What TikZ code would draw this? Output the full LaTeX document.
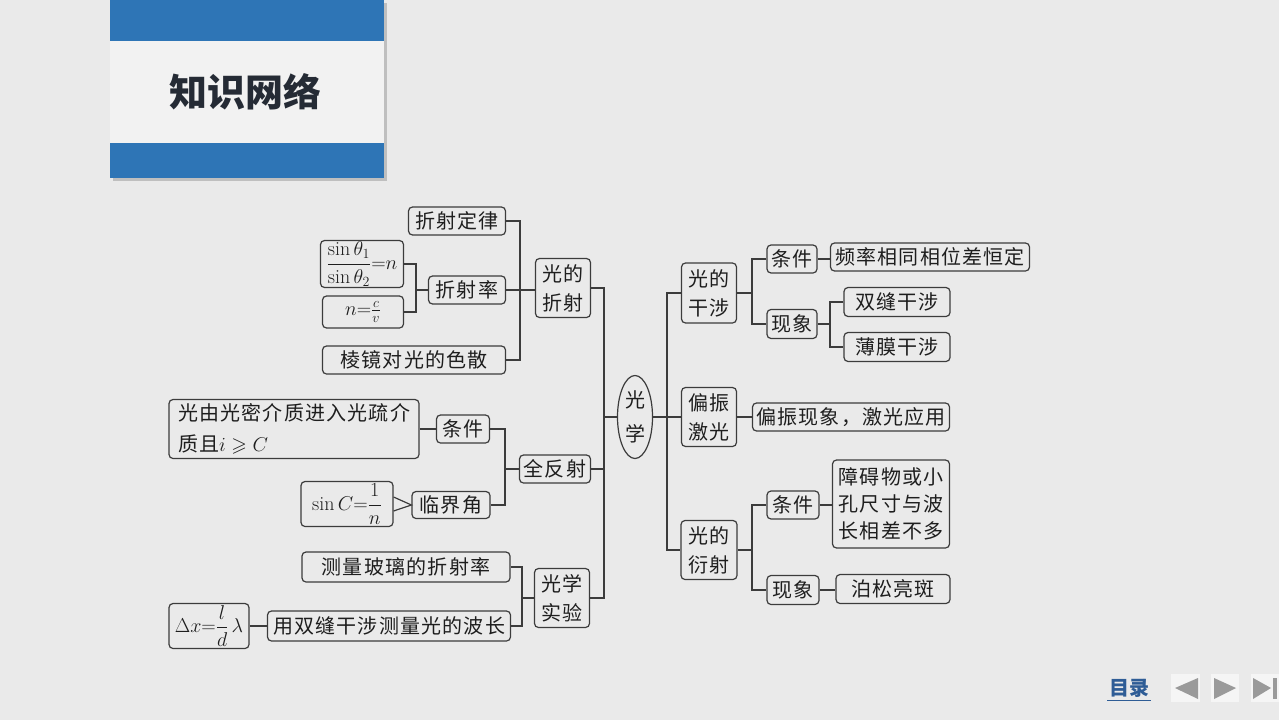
\RequirePackage{fix-cm}
\documentclass[tikz,border=0pt]{standalone}
\usepackage{amsmath,amssymb}
\usepackage{fontspec}
\newfontfamily\cjk{Noto Sans CJK SC}[LetterSpace=6]
\newfontfamily\cjktitle{Noto Sans CJK SC}
\usetikzlibrary{shapes.geometric,calc}

\definecolor{bgcol}{HTML}{EAEAEA}
\definecolor{linecol}{HTML}{3C3C3C}
\definecolor{txtcol}{HTML}{1E1E1E}
\definecolor{bandblue}{HTML}{2E75B6}
\definecolor{titlegray}{HTML}{F2F2F2}
\definecolor{titletext}{HTML}{252B35}
\definecolor{navblue}{HTML}{2F5D96}
\definecolor{navgray}{HTML}{9A9A9A}

\begin{document}
\begin{tikzpicture}[
    x=1pt, y=-1pt,
    box/.style={
        draw=linecol,
        line width=1.2pt,
        rounded corners=4pt,
        text=txtcol,
        font=\cjk\fontsize{20}{29}\selectfont,
        align=center,
        inner sep=0pt
    },
    mathbox/.style={box, font=\fontsize{20}{24}\selectfont},
    link/.style={draw=linecol, line width=1.2pt}
]

% Background
\fill[bgcol] (0,0) rectangle (1279,720);
\useasboundingbox (0,0) rectangle (1279,720);

% Title banner
\fill[black,opacity=.18] (113,3) rectangle (387,181);
\fill[bandblue] (110,0) rectangle (384,178);
\fill[titlegray] (110,41) rectangle (384,143);
\node[font=\cjktitle\bfseries\fontsize{38}{38}\selectfont,text=titletext] (title) at (245,92) {知识网络};

% Refraction
\node[box,minimum width=97,minimum height=28] (zsdl) at (457,221) {折射定律};
\node[mathbox,minimum width=83,minimum height=47] (zsgs) at (362,264) {$\dfrac{\sin\theta_1}{\sin\theta_2}{=}n$};
\node[mathbox,minimum width=81,minimum height=32] (ncv) at (363,312) {$n{=}\frac{c}{v}$};
\node[box,minimum width=77,minimum height=28] (zsl) at (467,290) {折射率};
\node[box,minimum width=183,minimum height=28] (ljds) at (414,360) {棱镜对光的色散};
\node[box,minimum width=55,minimum height=59] (gdzs) at (563,288) {光的\\折射};

\coordinate (jA) at (520,0);
\coordinate (jB) at (416,0);
\draw[link] (zsdl.east) -- (zsdl.east -| jA) |- (ljds.east);
\draw[link] (zsl.east) -- (zsl.east -| gdzs.west);
\draw[link] (zsgs.east) -- (zsgs.east -| jB) |- (ncv.east);
\draw[link] (zsl.west) -- (zsl.west -| jB);

% Total reflection
\node[box,minimum width=250,minimum height=59,align=left,font=\cjk\fontsize{20}{31}\selectfont] (qftj) at (294,429) {光由光密介质进入光疏介\\质且$i\geqslant C$};
\node[box,minimum width=53,minimum height=28] (qtj) at (463,429) {条件};
\node[box,minimum width=71,minimum height=28] (qfs) at (555,469) {全反射};
\node[mathbox,minimum width=92,minimum height=45] (ljgs) at (347,504) {$\sin C{=}\dfrac{1}{n}$};
\node[box,minimum width=78,minimum height=27] (ljj) at (451,505) {临界角};

\coordinate (jC) at (505,0);
\draw[link] (qftj.east) -- (qftj.east -| qtj.west);
\draw[link] (qtj.east) -- (qtj.east -| jC) |- (ljj.east);
\draw[link] (qfs.west) -- (qfs.west -| jC);
\draw[link] ([yshift=7pt]ljgs.east) -- (ljj.west) -- ([yshift=-7pt]ljgs.east);

% Experiments
\node[box,minimum width=208,minimum height=30] (clbl) at (406,567) {测量玻璃的折射率};
\node[box,minimum width=243,minimum height=30] (sfbc) at (389,626) {用双缝干涉测量光的波长};
\node[mathbox,minimum width=80,minimum height=45] (btgs) at (209,626) {$\Delta x{=}\dfrac{l}{d}\,\lambda$};
\node[box,minimum width=55,minimum height=59] (gxsy) at (562,598) {光学\\实验};

\coordinate (jE) at (522,0);
\draw[link] (clbl.east) -- (clbl.east -| jE) |- (sfbc.east);
\draw[link] (gxsy.west) -- (gxsy.west -| jE);
\draw[link] (btgs.east) -- (btgs.east -| sfbc.west);

% Optics (root)
\node[draw=linecol,line width=1.2pt,ellipse,minimum width=35,minimum height=83,inner sep=0pt,
      text=txtcol,font=\cjk\fontsize{20}{34}\selectfont,align=center] (gx) at (635,417) {光\\学};

\coordinate (jL) at (604,0);
\draw[link] (gdzs.east) -- (gdzs.east -| jL) |- (gxsy.east);
\draw[link] (qfs.east) -- (qfs.east -| jL);
\draw[link] (gx.west) -- (gx.west -| jL);

% Interference, polarization, diffraction
\node[box,minimum width=55,minimum height=60] (gdgs) at (709,293) {光的\\干涉};
\node[box,minimum width=55,minimum height=59] (pzjg) at (709,417) {偏振\\激光};
\node[box,minimum width=56,minimum height=59] (gdys) at (709,550) {光的\\衍射};

\coordinate (jR) at (667,0);
\draw[link] (gx.east) -- (gx.east -| jR);
\draw[link] (gdgs.west) -- (gdgs.west -| jR) |- (gdys.west);
\draw[link] (pzjg.west) -- (pzjg.west -| jR);

\node[box,minimum width=50,minimum height=28] (gstj) at (792,259) {条件};
\node[box,minimum width=199,minimum height=28] (gsnr) at (930,257) {频率相同相位差恒定};
\node[box,minimum width=50,minimum height=29] (gsxx) at (792,324) {现象};
\node[box,minimum width=106,minimum height=29] (sfgr) at (897,302) {双缝干涉};
\node[box,minimum width=106,minimum height=29] (bmgr) at (897,347) {薄膜干涉};
\node[box,minimum width=197,minimum height=28] (pzyy) at (851,417) {偏振现象，激光应用};
\node[box,minimum width=52,minimum height=28] (ystj) at (793,505) {条件};
\node[box,minimum width=117,minimum height=88,font=\cjk\fontsize{20}{27}\selectfont] (ysnr) at (891,504) {障碍物或小\\孔尺寸与波\\长相差不多};
\node[box,minimum width=52,minimum height=29] (ysxx) at (793,590) {现象};
\node[box,minimum width=114,minimum height=29] (bslb) at (893,589) {泊松亮斑};

\coordinate (jG) at (752,0);
\coordinate (jX) at (830,0);
\draw[link] (gstj.west) -- (gstj.west -| jG) |- (gsxx.west);
\draw[link] (gdgs.east) -- (gdgs.east -| jG);
\draw[link] (gstj.east) -- (gstj.east -| gsnr.west);
\draw[link] (sfgr.west) -- (sfgr.west -| jX) |- (bmgr.west);
\draw[link] (gsxx.east) -- (gsxx.east -| jX);
\draw[link] (pzjg.east) -- (pzjg.east -| pzyy.west);
\draw[link] (ystj.west) -- (ystj.west -| jG) |- (ysxx.west);
\draw[link] (gdys.east) -- (gdys.east -| jG);
\draw[link] (ystj.east) -- (ystj.east -| ysnr.west);
\draw[link] (ysxx.east) -- (ysxx.east -| bslb.west);

% Navigation
\node[font=\cjktitle\bfseries\fontsize{20}{20}\selectfont,text=navblue] (mulu) at (1129,688) {目录};
\draw[navblue,line width=1.5pt] ([xshift=2pt]mulu.south west) -- ([xshift=-2pt]mulu.south east);
\fill[white!92!gray] (1171,674) rectangle (1200,702);
\fill[navgray] (1175,688) -- (1198,678) -- (1198,699) -- cycle;
\fill[white!92!gray] (1211,674) rectangle (1239,702);
\fill[navgray] (1214,678) -- (1236,688) -- (1214,699) -- cycle;
\fill[white!92!gray] (1251,674) rectangle (1279,702);
\fill[navgray] (1253,678) -- (1271,688) -- (1253,699) -- cycle;
\fill[navgray] (1273,678) rectangle (1277,699);

\end{tikzpicture}
\end{document}
